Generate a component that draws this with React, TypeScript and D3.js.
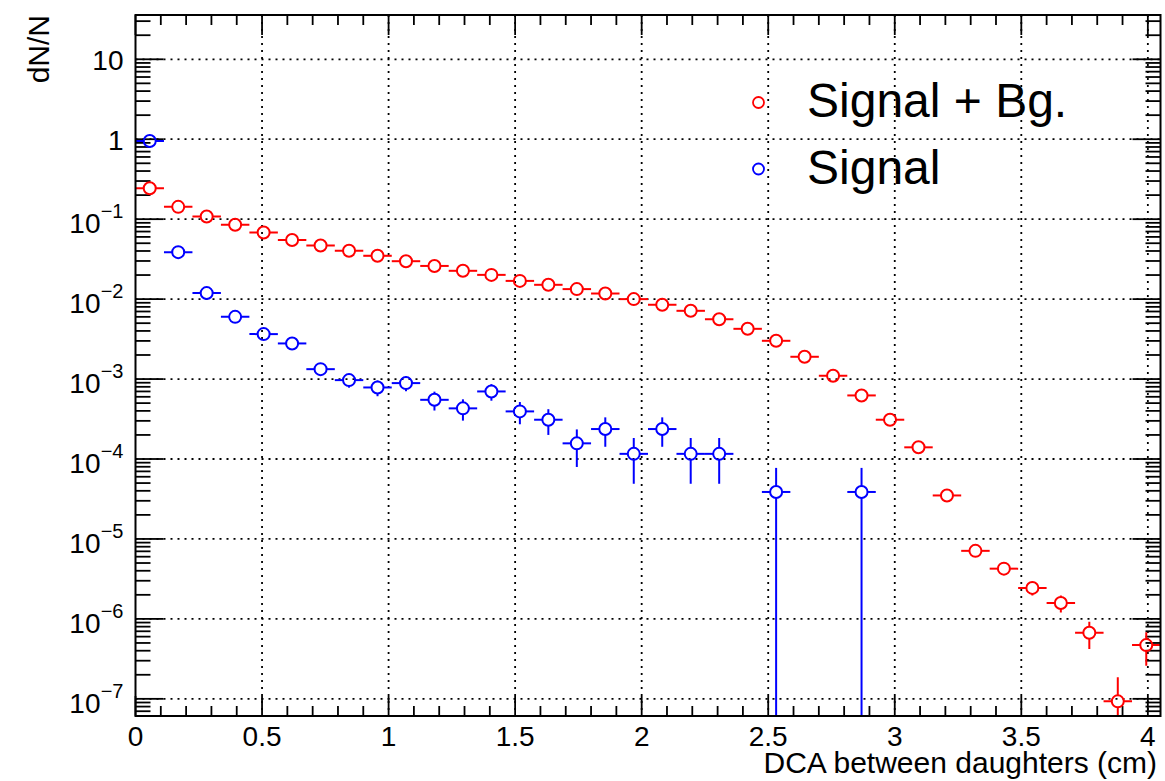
import React from 'react';
import * as d3 from 'd3';

// ---- data ----
const binWidth = 0.1125;
const binCount = 36;

const signalBg = [
  0.244, 0.1425, 0.108, 0.085, 0.068, 0.055, 0.0468, 0.0402, 0.0348, 0.0298,
  0.026, 0.0226, 0.0201, 0.0169, 0.0151, 0.01334, 0.01175, 0.01, 0.0085, 0.00714,
  0.0056, 0.00425, 0.00301, 0.0019, 0.0011, 0.000624, 0.00031, 0.00014, 3.5e-5, 7.1e-6,
  4.25e-6, 2.44e-6, 1.58e-6, 6.7e-7, 9.3e-8, 4.7e-7,
];
const signalBgErr = [
  1.5e-4, 1.2e-4, 1.0e-4, 9e-5, 8e-5, 7.2e-5, 6.6e-5, 6.1e-5, 5.7e-5, 5.3e-5,
  4.9e-5, 4.6e-5, 4.3e-5, 4.0e-5, 3.7e-5, 3.5e-5, 3.3e-5, 3.0e-5, 2.8e-5, 2.6e-5,
  2.3e-5, 2.0e-5, 1.7e-5, 1.3e-5, 1.0e-5, 7.6e-6, 5.4e-6, 3.6e-6, 1.8e-6, 8.1e-7,
  6.3e-7, 4.8e-7, 3.8e-7, 2.5e-7, 9.3e-8, 2.1e-7,
];
const signal = [
  0.95, 0.0387, 0.0119, 0.006, 0.00365, 0.00279, 0.00133, 0.00097, 0.000785, 0.00089,
  0.00055, 0.00043, 0.0007, 0.000394, 0.00031, 0.000157, 0.000237, 0.000116, 0.000237, 0.000116,
  0.000116, 0, 3.87e-5, 0, 0, 3.87e-5, 0, 0, 0, 0,
  0, 0, 0, 0, 0, 0,
];
const signalErr = [
  0.006, 0.0012, 0.00068, 0.00048, 0.00038, 0.00033, 0.00023, 0.00019, 0.000175, 0.000186,
  0.000146, 0.000128, 0.000164, 0.000122, 0.00011, 7.75e-5, 9.48e-5, 6.7e-5, 9.48e-5, 6.7e-5,
  6.7e-5, 0, 3.87e-5, 0, 0, 3.87e-5, 0, 0, 0, 0,
  0, 0, 0, 0, 0, 0,
];

const xTicks = [0, 0.5, 1, 1.5, 2, 2.5, 3, 3.5, 4];
const xTickLabels = ['0', '0.5', '1', '1.5', '2', '2.5', '3', '3.5', '4'];
const yDecades = [-7, -6, -5, -4, -3, -2, -1, 0, 1];
const legendLabels = ['Signal + Bg.', 'Signal'];
const seriesColors = ['#ff0000', '#0000ff'];
const xTitle = 'DCA between daughters (cm)';
const yTitle = 'dN/N';

// ---- layout ----
const W = 1165;
const H = 781;
const L = 135.5;
const R = 1160.5;
const T = 15;
const B = 716;
const FONT = '"Liberation Sans", Arial, Helvetica, sans-serif';

export default function App() {
  const x = d3.scaleLinear().domain([0, binCount * binWidth]).range([L, R]);
  const y = d3.scaleLog().domain([6.1e-8, 35.8]).range([B, T]);
  const centers = d3.range(binCount).map((i) => (i + 0.5) * binWidth);

  const xMinor = d3.range(0, 41).map((i) => i / 10).filter((v) => Math.abs(v * 2 - Math.round(v * 2)) > 1e-6);
  const yMinor: number[] = [];
  for (let e = -8; e <= 1; e++) {
    for (let k = 2; k <= 9; k++) {
      const v = k * Math.pow(10, e);
      if (v > y.domain()[0] && v < y.domain()[1]) yMinor.push(v);
    }
  }

  const r = 6;
  const series = [
    { vals: signalBg, errs: signalBgErr, color: seriesColors[0] },
    { vals: signal, errs: signalErr, color: seriesColors[1] },
  ];

  const marks = series.map((s, si) => {
    const els: any[] = [];
    s.vals.forEach((v, i) => {
      if (!(v > 0)) return;
      const c = centers[i];
      const cx = x(c);
      const cy = y(v);
      const xl = x(c - binWidth / 2);
      const xr = x(c + binWidth / 2);
      const e = s.errs[i];
      const yu = y(v + e);
      const yl = v - e > 0 ? y(v - e) : B + 10;
      const k = `${si}-${i}`;
      if (xl < cx - r) els.push(<line key={k + 'hl'} x1={xl} x2={cx - r} y1={cy} y2={cy} />);
      if (xr > cx + r) els.push(<line key={k + 'hr'} x1={cx + r} x2={xr} y1={cy} y2={cy} />);
      if (yu < cy - r) els.push(<line key={k + 'vu'} x1={cx} x2={cx} y1={yu} y2={cy - r} />);
      if (yl > cy + r) els.push(<line key={k + 'vl'} x1={cx} x2={cx} y1={cy + r} y2={yl} />);
      els.push(<circle key={k + 'c'} cx={cx} cy={cy} r={r} fill="none" />);
    });
    return (
      <g key={si} stroke={s.color} strokeWidth={2} clipPath="url(#frameClip)">
        {els}
      </g>
    );
  });

  return (
    <svg
      width={W}
      height={H}
      viewBox={`0 0 ${W} ${H}`}
      style={{ position: 'absolute', left: 0, top: 0, background: '#fff' }}
      fontFamily={FONT}
    >
      <defs>
        <clipPath id="frameClip">
          <rect x={L} y={T} width={R - L} height={B - T} />
        </clipPath>
      </defs>
      <rect x={0} y={0} width={W} height={H} fill="#fff" />

      {/* grid */}
      <g stroke="#000" strokeWidth={1.8} strokeDasharray="2,5">
        {xTicks.filter((v) => v > 0).map((v) => (
          <line key={'gx' + v} x1={x(v)} x2={x(v)} y1={T} y2={B} />
        ))}
        {yDecades.map((e) => (
          <line key={'gy' + e} x1={L} x2={R} y1={y(Math.pow(10, e))} y2={y(Math.pow(10, e))} />
        ))}
      </g>

      {/* ticks */}
      <g stroke="#000" strokeWidth={1.8}>
        {xTicks.map((v) => (
          <g key={'tx' + v}>
            <line x1={x(v)} x2={x(v)} y1={B} y2={B - 20} />
            <line x1={x(v)} x2={x(v)} y1={T} y2={T + 20} />
          </g>
        ))}
        {xMinor.map((v) => (
          <g key={'mx' + v}>
            <line x1={x(v)} x2={x(v)} y1={B} y2={B - 10} />
            <line x1={x(v)} x2={x(v)} y1={T} y2={T + 10} />
          </g>
        ))}
        {yDecades.map((e) => {
          const yy = y(Math.pow(10, e));
          return (
            <g key={'ty' + e}>
              <line x1={L} x2={L + 28} y1={yy} y2={yy} />
              <line x1={R} x2={R - 28} y1={yy} y2={yy} />
            </g>
          );
        })}
        {yMinor.map((v, i) => {
          const yy = y(v);
          return (
            <g key={'my' + i}>
              <line x1={L} x2={L + 15} y1={yy} y2={yy} />
              <line x1={R} x2={R - 15} y1={yy} y2={yy} />
            </g>
          );
        })}
      </g>

      {/* data */}
      {marks}

      {/* frame */}
      <rect x={L} y={T} width={R - L} height={B - T} fill="none" stroke="#000" strokeWidth={2} />

      {/* x tick labels */}
      <g fontSize={28} textAnchor="middle" fill="#000">
        {xTicks.map((v, i) => (
          <text key={'lx' + v} x={x(v)} y={746}>
            {xTickLabels[i]}
          </text>
        ))}
      </g>

      {/* y tick labels */}
      <g fill="#000">
        {yDecades.map((e) => {
          const yy = y(Math.pow(10, e));
          if (e >= 0) {
            return (
              <text key={'ly' + e} x={123.5} y={yy + 11} fontSize={28} textAnchor="end">
                {e === 0 ? '1' : '10'}
              </text>
            );
          }
          return (
            <g key={'ly' + e}>
              <text x={100.5} y={yy + 14} fontSize={28} textAnchor="end">
                10
              </text>
              <text x={123.5} y={yy - 1} fontSize={20} textAnchor="end">
                {'\u2212' + Math.abs(e)}
              </text>
            </g>
          );
        })}
      </g>

      {/* axis titles */}
      <text x={1157} y={773} fontSize={30} textAnchor="end" fill="#000">
        {xTitle}
      </text>
      <text transform="translate(49,15) rotate(-90)" fontSize={30} textAnchor="end" fill="#000">
        {yTitle}
      </text>

      {/* legend */}
      {legendLabels.map((lab, i) => {
        const ly = i === 0 ? 102.5 : 169;
        return (
          <g key={'lg' + i}>
            <circle cx={758.5} cy={ly} r={5.5} fill="none" stroke={seriesColors[i]} strokeWidth={1.8} />
            <text x={807} y={ly + 14.5} fontSize={48} fill="#000">
              {lab}
            </text>
          </g>
        );
      })}
    </svg>
  );
}
